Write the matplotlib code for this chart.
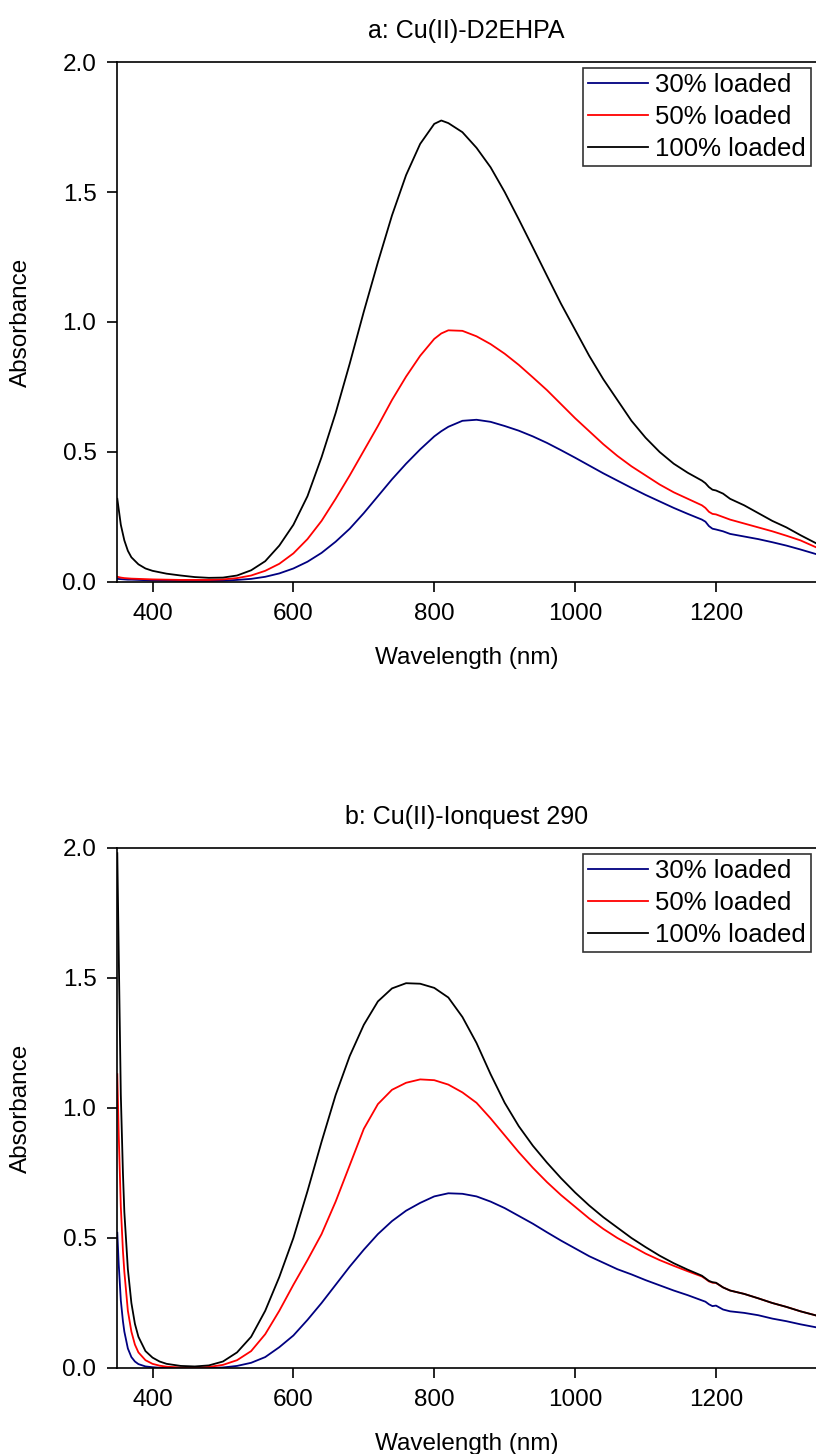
import matplotlib
matplotlib.use("Agg")
import matplotlib.pyplot as plt

plt.rcParams['font.family'] = ['Liberation Sans', 'DejaVu Sans']

# panel a: Cu(II)-D2EHPA
wl_a = [350, 355, 360, 365, 370, 380, 390, 400,
        420, 440, 460, 480, 500, 520, 540, 560, 580, 600, 620, 640, 660, 680, 700,
        720, 740, 760, 780, 800, 810, 820, 840, 860, 880, 900, 920, 940, 960, 980, 1000,
        1020, 1040, 1060, 1080, 1100, 1120, 1140, 1160, 1180,
        1185, 1190, 1195, 1200, 1210, 1220,
        1240, 1260, 1280, 1300, 1320, 1345]
a_30 = [0.012, 0.011, 0.010, 0.009, 0.009, 0.008, 0.007, 0.006,
        0.005, 0.004, 0.004, 0.004, 0.005, 0.008, 0.012, 0.020, 0.033, 0.052,
        0.078, 0.112, 0.155, 0.205, 0.265, 0.330, 0.395, 0.455, 0.510, 0.560, 0.580,
        0.597, 0.620, 0.624, 0.616, 0.600, 0.582, 0.560, 0.535, 0.507, 0.478,
        0.448, 0.418, 0.390, 0.362, 0.335, 0.310, 0.285, 0.262, 0.240,
        0.232, 0.215, 0.205, 0.202, 0.195, 0.185,
        0.175, 0.165, 0.153, 0.140, 0.125, 0.105]
a_50 = [0.020, 0.017, 0.015, 0.014, 0.013, 0.012, 0.011, 0.010,
        0.009, 0.008, 0.008, 0.008, 0.010, 0.015, 0.025, 0.043, 0.070, 0.110,
        0.165, 0.235, 0.320, 0.410, 0.505, 0.600, 0.700, 0.790, 0.870, 0.935, 0.956,
        0.968, 0.966, 0.945, 0.915, 0.878, 0.835, 0.787, 0.738, 0.684, 0.630,
        0.580, 0.530, 0.485, 0.445, 0.410, 0.375, 0.345, 0.320, 0.295,
        0.285, 0.270, 0.262, 0.260, 0.250, 0.240,
        0.225, 0.210, 0.195, 0.178, 0.160, 0.130]
a_100 = [0.320, 0.220, 0.160, 0.120, 0.095, 0.068, 0.052, 0.043,
         0.032, 0.025, 0.019, 0.016, 0.017, 0.025, 0.045, 0.080, 0.140, 0.220,
         0.330, 0.480, 0.650, 0.840, 1.040, 1.230, 1.410, 1.565, 1.685, 1.762, 1.775,
         1.765, 1.730, 1.670, 1.595, 1.500, 1.395, 1.287, 1.178, 1.070, 0.970,
         0.870, 0.780, 0.700, 0.620, 0.555, 0.500, 0.455, 0.420, 0.390,
         0.380, 0.365, 0.355, 0.352, 0.340, 0.320,
         0.295, 0.265, 0.235, 0.210, 0.180, 0.145]

# panel b: Cu(II)-Ionquest 290
wl_b = [350, 352, 355, 358, 360, 365, 370, 375, 380, 390, 400, 410,
        420, 440, 460, 480, 500, 520, 540, 560, 580, 600, 620, 640, 660, 680, 700,
        720, 740, 760, 780, 800, 820, 840, 860, 880, 900, 920, 940, 960, 980, 1000,
        1020, 1040, 1060, 1080, 1100, 1120, 1140, 1160, 1180,
        1185, 1190, 1195, 1200, 1210, 1220,
        1240, 1260, 1280, 1300, 1320, 1345]
b_30 = [0.520, 0.400, 0.260, 0.180, 0.140, 0.075, 0.042, 0.025, 0.015, 0.006, 0.003, 0.001,
        0.000, 0.000, 0.000, 0.000, 0.002, 0.008, 0.020, 0.042, 0.080, 0.125,
        0.185, 0.250, 0.320, 0.390, 0.455, 0.515, 0.565, 0.605, 0.635, 0.660,
        0.672, 0.670, 0.660, 0.640, 0.615, 0.585, 0.555, 0.522, 0.490, 0.460,
        0.430, 0.405, 0.380, 0.360, 0.338, 0.318, 0.298, 0.280, 0.260,
        0.255, 0.245, 0.238, 0.240, 0.225, 0.218,
        0.212, 0.203, 0.190, 0.180, 0.168, 0.155]
b_50 = [1.130, 0.900, 0.620, 0.450, 0.370, 0.220, 0.140, 0.090, 0.060, 0.030, 0.016, 0.009,
        0.005, 0.002, 0.001, 0.004, 0.012, 0.030, 0.065, 0.130, 0.220, 0.320,
        0.415, 0.515, 0.640, 0.780, 0.920, 1.015, 1.070, 1.097, 1.110, 1.107,
        1.090, 1.060, 1.020, 0.960, 0.895, 0.830, 0.770, 0.715, 0.665, 0.620,
        0.575, 0.535, 0.500, 0.470, 0.440, 0.415, 0.393, 0.372, 0.352,
        0.343, 0.333, 0.328, 0.327, 0.310, 0.298,
        0.285, 0.268, 0.250, 0.235, 0.218, 0.200]
b_100 = [1.980, 1.600, 1.050, 0.750, 0.600, 0.380, 0.250, 0.170, 0.120, 0.065, 0.040, 0.025,
         0.016, 0.008, 0.006, 0.010, 0.025, 0.060, 0.120, 0.220, 0.350, 0.500,
         0.680, 0.870, 1.050, 1.200, 1.320, 1.410, 1.460, 1.480, 1.478, 1.462,
         1.425, 1.350, 1.250, 1.130, 1.020, 0.930, 0.855, 0.790, 0.730, 0.675,
         0.625, 0.580, 0.540, 0.500, 0.465, 0.432, 0.403, 0.378, 0.355,
         0.345, 0.335, 0.330, 0.328, 0.310, 0.298,
         0.285, 0.268, 0.250, 0.235, 0.218, 0.200]

labels = ['30% loaded', '50% loaded', '100% loaded']
colors = ['#000080', '#ff0000', '#000000']

W, H = 816, 1454
fig = plt.figure(figsize=(W / 100, H / 100), dpi=100)


def make_panel(top_px, title, wl, series):
    left = 117.3 / W
    ax = fig.add_axes([left, (H - top_px - 520) / H, 1.0 - left, 520 / H])
    for ys, c, lab in zip(series, colors, labels):
        assert len(ys) == len(wl)
        ax.plot(wl, ys, color=c, lw=1.3, label=lab)
    ax.set_xlim(350, 1342)
    ax.set_ylim(0, 2.0)
    ax.set_xticks([400, 600, 800, 1000, 1200])
    ax.set_yticks([0.0, 0.5, 1.0, 1.5, 2.0])
    ax.set_yticklabels(['0.0', '0.5', '1.0', '1.5', '2.0'])
    ax.spines['right'].set_visible(False)
    for s in ['left', 'bottom', 'top']:
        ax.spines[s].set_linewidth(1.2)
    ax.tick_params(direction='out', length=7, width=1.2, labelsize=17.5, pad=8)
    ax.set_title(title, fontsize=18, pad=17)
    ax.set_xlabel('Wavelength (nm)', fontsize=17.5, labelpad=16)
    ax.set_ylabel('Absorbance', fontsize=17.5, labelpad=22)
    leg = ax.legend(loc='upper right', bbox_to_anchor=(0.993, 0.989), borderaxespad=0,
                    fontsize=18.5, frameon=True, fancybox=False, handlelength=2.3,
                    handletextpad=0.28, labelspacing=0.3, borderpad=0.22)
    leg.get_frame().set_edgecolor('black')
    leg.get_frame().set_linewidth(1.2)
    return ax


make_panel(62, 'a: Cu(II)-D2EHPA', wl_a, [a_30, a_50, a_100])
make_panel(848, 'b: Cu(II)-Ionquest 290', wl_b, [b_30, b_50, b_100])

fig.savefig('out.png', dpi=100)
